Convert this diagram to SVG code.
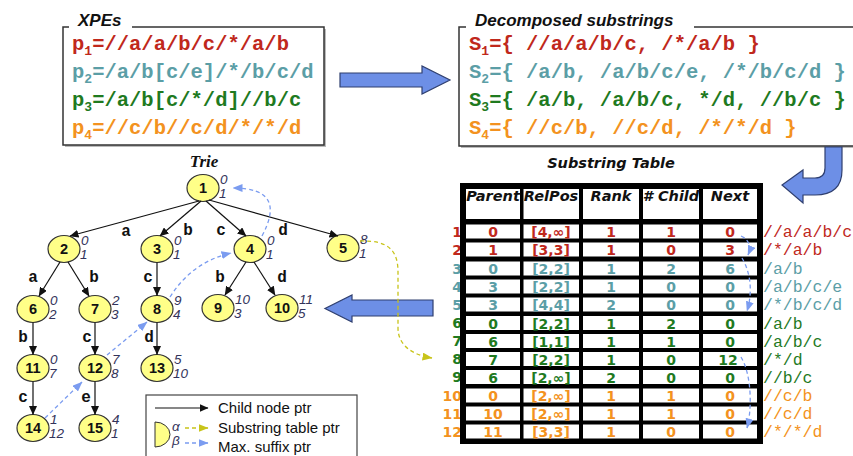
<svg xmlns="http://www.w3.org/2000/svg" width="853" height="456" viewBox="0 0 853 456">
<defs>
<marker id="ab" markerUnits="userSpaceOnUse" markerWidth="9" markerHeight="8" refX="8.5" refY="4" orient="auto"><path d="M0,0 L9,4 L0,8 Z" fill="#111"/></marker>
<marker id="abl" markerUnits="userSpaceOnUse" markerWidth="10" markerHeight="8" refX="9.5" refY="4" orient="auto"><path d="M0,0 L10,4 L0,8 Z" fill="#7b9cf0"/></marker>
<marker id="ay" markerUnits="userSpaceOnUse" markerWidth="10" markerHeight="8" refX="9.5" refY="4" orient="auto"><path d="M0,0 L10,4 L0,8 Z" fill="#c8c41a"/></marker>
</defs>
<style>
.mono{font-family:"Liberation Mono","Courier New",monospace;font-weight:bold}
.ttl{font-family:"Liberation Sans",Arial,sans-serif;font-weight:bold;font-style:italic;font-size:17px;fill:#111}
.red{fill:#c0281c}.teal{fill:#5b9ea6}.grn{fill:#1f7a1f}.org{fill:#f39220}
.node ellipse{fill:#ffff88;stroke:#333;stroke-width:1.2}
.nn{font-family:"Liberation Sans",Arial,sans-serif;font-weight:bold;font-size:14.5px;text-anchor:middle;fill:#111}
.ab{font-family:"Liberation Sans",Arial,sans-serif;font-style:italic;font-size:13.5px;fill:#33335a}
.el{font-family:"Liberation Mono","Courier New",monospace;font-weight:bold;font-size:16px;text-anchor:middle;fill:#111}
.edge{stroke:#111;stroke-width:1.2;fill:none;marker-end:url(#ab)}
.sfx{stroke:#7b9cf0;stroke-width:1.3;stroke-dasharray:4,3;fill:none;marker-end:url(#abl)}
.stp{stroke:#c8c41a;stroke-width:1.3;stroke-dasharray:4,3;fill:none;marker-end:url(#ay)}
.blk{fill:#6d8fe6;stroke:#2f3f6f;stroke-width:1.2}
.hd{font-family:"DejaVu Sans",Verdana,sans-serif;font-weight:bold;font-style:italic;font-size:14.5px;text-anchor:middle;fill:#111}
.cv{font-family:"DejaVu Sans",Verdana,sans-serif;font-weight:bold;font-size:14px;text-anchor:middle}
.rn{font-family:"DejaVu Sans",Verdana,sans-serif;font-weight:bold;font-size:14px;text-anchor:end}
.rs{font-family:"Liberation Mono","Courier New",monospace;font-size:16.5px}
.lg{font-family:"Liberation Sans",Arial,sans-serif;font-size:15px;fill:#111}
</style>
<rect width="853" height="456" fill="#fff"/>

<!-- XPEs box -->
<g id="xpes">
<rect x="65" y="29" width="261" height="118" fill="#bbb"/>
<rect x="63" y="27" width="261" height="118" fill="#fff" stroke="#333" stroke-width="1.5"/>
<rect x="69" y="20" width="63" height="12" fill="#fff"/>
<text class="ttl" x="78" y="26">XPEs</text>
<text class="mono red" x="72" y="50" font-size="20.5">p<tspan font-size="13" dy="5">1</tspan><tspan dy="-5">=//a/a/b/c/*/a/b</tspan></text>
<text class="mono teal" x="72" y="78" font-size="20.5">p<tspan font-size="13" dy="5">2</tspan><tspan dy="-5">=/a/b[c/e]/*/b/c/d</tspan></text>
<text class="mono grn" x="72" y="106" font-size="20.5">p<tspan font-size="13" dy="5">3</tspan><tspan dy="-5">=/a/b[c/*/d]//b/c</tspan></text>
<text class="mono org" x="72" y="134" font-size="20.5">p<tspan font-size="13" dy="5">4</tspan><tspan dy="-5">=//c/b//c/d/*/*/d</tspan></text>
</g>

<!-- Decomposed substrings box -->
<g id="decomp">
<rect x="461" y="29" width="400" height="119" fill="#bbb"/>
<rect x="459" y="27" width="400" height="119" fill="#fff" stroke="#333" stroke-width="1.5"/>
<rect x="466" y="20" width="228" height="12" fill="#fff"/>
<text class="ttl" x="475" y="26">Decomposed substrings</text>
<text class="mono red" x="469" y="50" font-size="20.5">S<tspan font-size="13" dy="5">1</tspan><tspan dy="-5">={ //a/a/b/c, /*/a/b }</tspan></text>
<text class="mono teal" x="469" y="78" font-size="20.5">S<tspan font-size="13" dy="5">2</tspan><tspan dy="-5">={ /a/b, /a/b/c/e, /*/b/c/d }</tspan></text>
<text class="mono grn" x="469" y="106" font-size="20.5">S<tspan font-size="13" dy="5">3</tspan><tspan dy="-5">={ /a/b, /a/b/c, */d, //b/c }</tspan></text>
<text class="mono org" x="469" y="134" font-size="20.5">S<tspan font-size="13" dy="5">4</tspan><tspan dy="-5">={ //c/b, //c/d, /*/*/d }</tspan></text>
</g>

<!-- block arrows -->
<g id="bigarrows">
<path class="blk" d="M340,73 L422,73 L422,66 L450,80 L422,94 L422,87 L340,87 Z"/>
<path class="blk" d="M825,147 L842,147 L842,170 Q842,195 815,195 L803,195 L803,203 L782,185 L803,170 L803,178 L815,178 Q825,178 825,168 Z"/>
<path class="blk" d="M433,300 L352,300 L352,295 L325,308.5 L352,322 L352,316 L433,316 Z"/>
</g>

<text x="204" y="167" text-anchor="middle" font-family="'Liberation Serif','Times New Roman',serif" font-weight="bold" font-style="italic" font-size="17" fill="#111">Trie</text>

<!-- nodes -->
<g id="n1" class="node"><ellipse cx="203" cy="188" rx="16" ry="13.5"/><text class="nn" x="203" y="193">1</text><text class="ab" x="220" y="184">0</text><text class="ab" x="219" y="198">1</text></g>
<g id="n2" class="node"><ellipse cx="64" cy="249" rx="16" ry="13.5"/><text class="nn" x="64" y="254">2</text><text class="ab" x="81" y="245">0</text><text class="ab" x="80" y="259">1</text></g>
<g id="n3" class="node"><ellipse cx="157" cy="249" rx="16" ry="13.5"/><text class="nn" x="157" y="254">3</text><text class="ab" x="174" y="245">0</text><text class="ab" x="173" y="259">1</text></g>
<g id="n4" class="node"><ellipse cx="250" cy="249" rx="16" ry="13.5"/><text class="nn" x="250" y="254">4</text><text class="ab" x="267" y="245">0</text><text class="ab" x="266" y="259">1</text></g>
<g id="n5" class="node"><ellipse cx="343" cy="248" rx="16" ry="13.5"/><text class="nn" x="343" y="253">5</text><text class="ab" x="360" y="244">8</text><text class="ab" x="359" y="258">1</text></g>
<g id="n6" class="node"><ellipse cx="33" cy="309" rx="16" ry="13.5"/><text class="nn" x="33" y="314">6</text><text class="ab" x="50" y="305">0</text><text class="ab" x="49" y="319">2</text></g>
<g id="n7" class="node"><ellipse cx="95" cy="309" rx="16" ry="13.5"/><text class="nn" x="95" y="314">7</text><text class="ab" x="112" y="305">2</text><text class="ab" x="111" y="319">3</text></g>
<g id="n8" class="node"><ellipse cx="157" cy="309" rx="16" ry="13.5"/><text class="nn" x="157" y="314">8</text><text class="ab" x="174" y="305">9</text><text class="ab" x="173" y="319">4</text></g>
<g id="n9" class="node"><ellipse cx="218" cy="308" rx="16" ry="13.5"/><text class="nn" x="218" y="313">9</text><text class="ab" x="235" y="304">10</text><text class="ab" x="234" y="318">3</text></g>
<g id="n10" class="node"><ellipse cx="282" cy="308" rx="16" ry="13.5"/><text class="nn" x="282" y="313">10</text><text class="ab" x="299" y="304">11</text><text class="ab" x="298" y="318">5</text></g>
<g id="n11" class="node"><ellipse cx="33" cy="368" rx="16" ry="13.5"/><text class="nn" x="33" y="373">11</text><text class="ab" x="50" y="364">0</text><text class="ab" x="49" y="378">7</text></g>
<g id="n12" class="node"><ellipse cx="95" cy="368" rx="16" ry="13.5"/><text class="nn" x="95" y="373">12</text><text class="ab" x="112" y="364">7</text><text class="ab" x="111" y="378">8</text></g>
<g id="n13" class="node"><ellipse cx="157" cy="368" rx="16" ry="13.5"/><text class="nn" x="157" y="373">13</text><text class="ab" x="174" y="364">5</text><text class="ab" x="173" y="378">10</text></g>
<g id="n14" class="node"><ellipse cx="33" cy="428" rx="16" ry="13.5"/><text class="nn" x="33" y="433">14</text><text class="ab" x="50" y="424">1</text><text class="ab" x="49" y="438">12</text></g>
<g id="n15" class="node"><ellipse cx="95" cy="428" rx="16" ry="13.5"/><text class="nn" x="95" y="433">15</text><text class="ab" x="112" y="424">4</text><text class="ab" x="111" y="438">1</text></g>

<!-- legend -->
<g id="legend">
<rect x="146" y="395" width="211" height="70" fill="#fff" stroke="#444" stroke-width="1.2"/>
<line x1="155" y1="408" x2="208" y2="408" stroke="#111" stroke-width="1.2" marker-end="url(#ab)"/>
<text class="lg" x="218" y="413">Child node ptr</text>
<path d="M155,422 A15,12.5 0 0 1 155,447 Z" fill="#ffff88" stroke="#333" stroke-width="1"/>
<text class="ab" x="172" y="431" font-style="normal" font-size="14">α</text>
<text class="ab" x="172" y="445" font-style="normal" font-size="14">β</text>
<line class="stp" x1="185" y1="428" x2="208" y2="428"/>
<text class="lg" x="218" y="433">Substring table ptr</text>
<line class="sfx" x1="185" y1="443" x2="208" y2="443"/>
<text class="lg" x="218" y="452">Max. suffix ptr</text>
</g>

<!-- substring table -->
<g id="table">
<text x="611" y="168" text-anchor="middle" font-family="'DejaVu Sans',Verdana,sans-serif" font-weight="bold" font-style="italic" font-size="14.5" fill="#111">Substring Table</text>
<g class="rn">
<text class="red" x="462" y="236.5">1</text>
<text class="red" x="462" y="254.5">2</text>
<text class="teal" x="462" y="273.5">3</text>
<text class="teal" x="462" y="291.5">4</text>
<text class="teal" x="462" y="309.5">5</text>
<text class="grn" x="462" y="328">6</text>
<text class="grn" x="462" y="346">7</text>
<text class="grn" x="462" y="364">8</text>
<text class="grn" x="462" y="382">9</text>
<text class="org" x="462" y="400.5">10</text>
<text class="org" x="462" y="418.5">11</text>
<text class="org" x="462" y="436.5">12</text>
</g>
<rect x="460" y="183" width="303" height="261" fill="#000"/>
<g fill="#fff">
<rect x="466" y="189" width="291" height="30"/>
<rect x="466" y="224.5" width="291" height="14"/>
<rect x="466" y="242.5" width="291" height="14"/>
<rect x="466" y="261.5" width="291" height="14"/>
<rect x="466" y="279.5" width="291" height="14"/>
<rect x="466" y="297.5" width="291" height="14"/>
<rect x="466" y="316" width="291" height="14"/>
<rect x="466" y="334" width="291" height="14"/>
<rect x="466" y="352" width="291" height="14"/>
<rect x="466" y="370" width="291" height="14"/>
<rect x="466" y="388.5" width="291" height="14"/>
<rect x="466" y="406.5" width="291" height="14"/>
<rect x="466" y="424.5" width="291" height="14"/>
</g>
<g fill="#000">
<rect x="520" y="183" width="3.5" height="261"/>
<rect x="579" y="183" width="4" height="261"/>
<rect x="639" y="183" width="4" height="261"/>
<rect x="699" y="183" width="4" height="261"/>
</g>
<text class="hd" x="493" y="201">Parent</text>
<text class="hd" x="551" y="201">RelPos</text>
<text class="hd" x="611" y="201">Rank</text>
<text class="hd" x="671" y="201">#&#160;Child</text>
<text class="hd" x="730" y="201">Next</text>
<g class="cv red">
<text x="493" y="237">0</text><text x="551" y="237">[4,∞]</text><text x="611" y="237">1</text><text x="671" y="237">1</text><text x="730" y="237">0</text>
<text x="493" y="255">1</text><text x="551" y="255">[3,3]</text><text x="611" y="255">1</text><text x="671" y="255">0</text><text x="730" y="255">3</text>
</g>
<g class="cv teal">
<text x="493" y="274">0</text><text x="551" y="274">[2,2]</text><text x="611" y="274">1</text><text x="671" y="274">2</text><text x="730" y="274">6</text>
<text x="493" y="292">3</text><text x="551" y="292">[2,2]</text><text x="611" y="292">1</text><text x="671" y="292">0</text><text x="730" y="292">0</text>
<text x="493" y="310">3</text><text x="551" y="310">[4,4]</text><text x="611" y="310">2</text><text x="671" y="310">0</text><text x="730" y="310">0</text>
</g>
<g class="cv grn">
<text x="493" y="328.5">0</text><text x="551" y="328.5">[2,2]</text><text x="611" y="328.5">1</text><text x="671" y="328.5">2</text><text x="730" y="328.5">0</text>
<text x="493" y="346.5">6</text><text x="551" y="346.5">[1,1]</text><text x="611" y="346.5">1</text><text x="671" y="346.5">1</text><text x="730" y="346.5">0</text>
<text x="493" y="364.5">7</text><text x="551" y="364.5">[2,2]</text><text x="611" y="364.5">1</text><text x="671" y="364.5">0</text><text x="728" y="364.5">12</text>
<text x="493" y="382.5">6</text><text x="551" y="382.5">[2,∞]</text><text x="611" y="382.5">2</text><text x="671" y="382.5">0</text><text x="730" y="382.5">0</text>
</g>
<g class="cv org">
<text x="493" y="401">0</text><text x="551" y="401">[2,∞]</text><text x="611" y="401">1</text><text x="671" y="401">1</text><text x="730" y="401">0</text>
<text x="493" y="419">10</text><text x="551" y="419">[2,∞]</text><text x="611" y="419">1</text><text x="671" y="419">1</text><text x="730" y="419">0</text>
<text x="493" y="437">11</text><text x="551" y="437">[3,3]</text><text x="611" y="437">1</text><text x="671" y="437">0</text><text x="730" y="437">0</text>
</g>
<g class="rs">
<text class="red" x="763" y="237">//a/a/b/c</text>
<text class="red" x="763" y="255">/*/a/b</text>
<text class="teal" x="763" y="274">/a/b</text>
<text class="teal" x="763" y="292">/a/b/c/e</text>
<text class="teal" x="763" y="310">/*/b/c/d</text>
<text class="grn" x="763" y="328.5">/a/b</text>
<text class="grn" x="763" y="346.5">/a/b/c</text>
<text class="grn" x="763" y="364.5">/*/d</text>
<text class="grn" x="763" y="382.5">//b/c</text>
<text class="org" x="763" y="401">//c/b</text>
<text class="org" x="763" y="419">//c/d</text>
<text class="org" x="763" y="437">/*/*/d</text>
</g>
</g>

<!-- connectors -->
<g id="connectors">
<line class="edge" x1="199" y1="201" x2="70" y2="236"/>
<line class="edge" x1="201" y1="201" x2="160" y2="236"/>
<line class="edge" x1="206" y1="201" x2="246" y2="236"/>
<line class="edge" x1="209" y1="200" x2="338" y2="236"/>
<line class="edge" x1="60" y1="262" x2="39" y2="296"/>
<line class="edge" x1="68" y1="262" x2="89" y2="296"/>
<line class="edge" x1="157" y1="262.5" x2="157" y2="295.5"/>
<line class="edge" x1="246" y1="262" x2="225" y2="295"/>
<line class="edge" x1="254" y1="262" x2="275" y2="295"/>
<line class="edge" x1="33" y1="322.5" x2="33" y2="354.5"/>
<line class="edge" x1="95" y1="322.5" x2="95" y2="354.5"/>
<line class="edge" x1="157" y1="322.5" x2="157" y2="354.5"/>
<line class="edge" x1="33" y1="381.5" x2="33" y2="414.5"/>
<line class="edge" x1="95" y1="381.5" x2="95" y2="414.5"/>
<text class="el" x="126" y="236">a</text>
<text class="el" x="188" y="235">b</text>
<text class="el" x="221" y="235">c</text>
<text class="el" x="283" y="235">d</text>
<text class="el" x="33" y="282">a</text>
<text class="el" x="94" y="282">b</text>
<text class="el" x="148" y="282">c</text>
<text class="el" x="220" y="282">b</text>
<text class="el" x="282" y="282">d</text>
<text class="el" x="23" y="342">b</text>
<text class="el" x="87" y="342">c</text>
<text class="el" x="149" y="342">d</text>
<text class="el" x="23" y="402">c</text>
<text class="el" x="86" y="402">e</text>
<path class="sfx" d="M262,236 C278,206 272,188 233,188"/>
<path class="sfx" d="M170,297 Q192,262 231,253"/>
<line class="sfx" x1="107" y1="355" x2="147" y2="322"/>
<line class="sfx" x1="45" y1="418" x2="82" y2="382"/>
<path class="stp" d="M360,241 C390,240 398,252 398,272 L398,328 C398,345 412,355 432,358"/>
<path class="sfx" d="M741,236 C750,240 751,248 748,255"/>
<path class="sfx" d="M742,258 C752,275 752,295 747,311"/>
<path class="sfx" d="M741,357 C752,375 752,410 747,428"/>
</g>
</svg>
